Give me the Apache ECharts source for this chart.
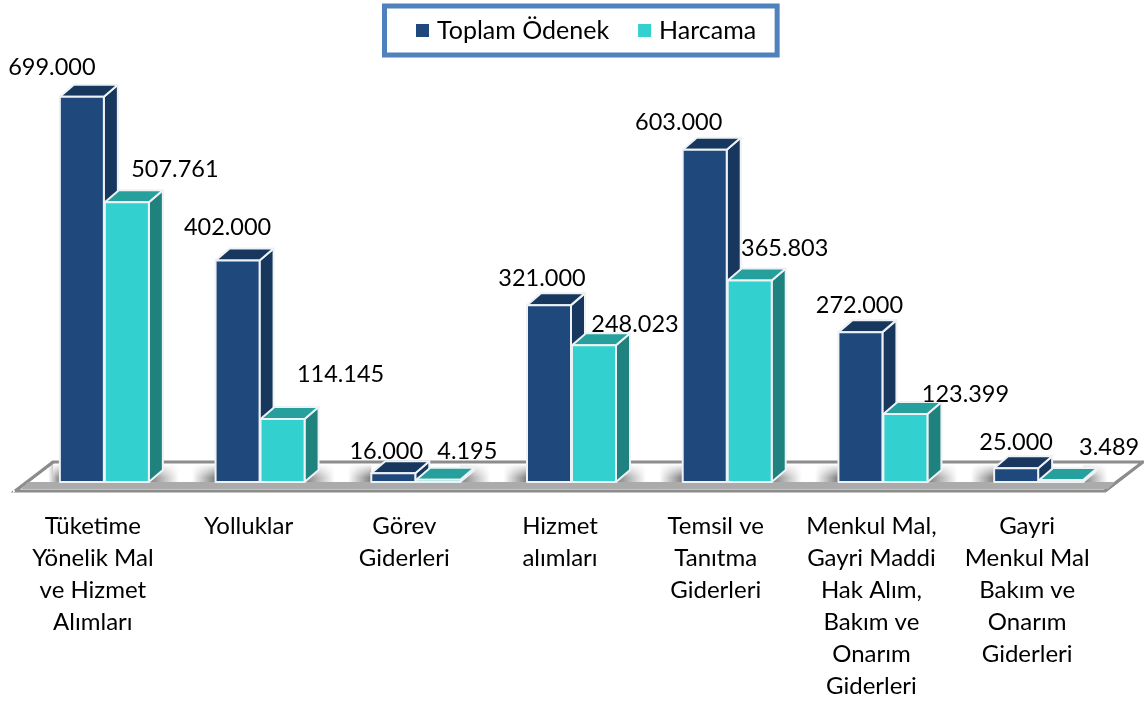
<!DOCTYPE html>
<html>
<head>
<meta charset="utf-8">
<title>Toplam Ödenek ve Harcama</title>
<script src="https://cdn.jsdelivr.net/npm/echarts@6/dist/echarts.min.js"></script>
<style>
  html, body { margin: 0; padding: 0; background: #fff; }
  #chart { width: 1144px; height: 702px; }
</style>
</head>
<body>
<div id="chart"></div>
<script>
const categories = [
  'Tüketime\nYönelik Mal\nve Hizmet\nAlımları',
  'Yolluklar',
  'Görev\nGiderleri',
  'Hizmet\nalımları',
  'Temsil ve\nTanıtma\nGiderleri',
  'Menkul Mal,\nGayri Maddi\nHak Alım,\nBakım ve\nOnarım\nGiderleri',
  'Gayri\nMenkul Mal\nBakım ve\nOnarım\nGiderleri'
]
const toplamOdenek = [699000, 402000, 16000, 321000, 603000, 272000, 25000]
const harcama = [507761, 114145, 4195, 248023, 365803, 123399, 3489]

// label nudges relative to the top centre of each bar, the source places them by hand
const toplamLabelShift = [[-30, -29], [-10, -33], [-7, -22], [-7, -27], [-26, -27], [-1, -27], [0, -26]]
const harcamaLabelShift = [[48, -33], [58, -45], [29, -28], [41, -21], [35, -32], [60, -20], [48, -33]]

const FONT = 'Lato, "Noto Sans", sans-serif'
const DEPTH_X = 14
const DEPTH_Y = 12
const BAR_W = 44
const BAR_START = -33

const fmt = (v) => String(v).replace(/\B(?=(\d{3})+$)/g, '.')

const barSeries = (name, values, shifts, offset, front, top, side) => ({
  name,
  type: 'custom',
  clip: false,
  z: 3,
  itemStyle: { color: front },
  data: values.map((v, i) => [i, v]),
  encode: { x: 0, y: 1 },
  renderItem: (params, api) => {
    const idx = api.value(0)
    const val = api.value(1)
    const tip = api.coord([idx, val])
    const base = api.coord([idx, 0])
    const x0 = tip[0] + BAR_START + offset
    const x1 = x0 + BAR_W
    const y0 = tip[1]
    const y1 = base[1]
    const edge = { stroke: '#eef2f4', lineWidth: 2, lineJoin: 'round' }
    const shift = shifts[idx]
    return {
      type: 'group',
      children: [
        {
          type: 'polygon',
          shape: { points: [[x1, y0], [x1 + DEPTH_X, y0 - DEPTH_Y], [x1 + DEPTH_X, y1 - DEPTH_Y], [x1, y1]] },
          style: { fill: side, ...edge }
        },
        {
          type: 'polygon',
          shape: { points: [[x0, y0], [x0 + DEPTH_X, y0 - DEPTH_Y], [x1 + DEPTH_X, y0 - DEPTH_Y], [x1, y0]] },
          style: { fill: top, ...edge }
        },
        {
          type: 'rect',
          shape: { x: x0, y: y0, width: BAR_W, height: y1 - y0 },
          style: { fill: front, ...edge }
        },
        {
          type: 'text',
          z2: 10,
          style: {
            text: fmt(val),
            x: (x0 + x1) / 2 + shift[0],
            y: y0 + shift[1],
            align: 'center',
            verticalAlign: 'middle',
            font: '23.5px ' + FONT,
            fill: '#000'
          }
        }
      ]
    }
  }
})

// the grey plate the bars stand on, plus the soft shadows between them
const floorSeries = {
  type: 'custom',
  clip: false,
  silent: true,
  z: 1,
  data: [[0, 0]],
  encode: { x: 0, y: 1 },
  renderItem: (params, api) => {
    const cs = params.coordSys
    const yBase = api.coord([0, 0])[1]
    const yFront = yBase + 9
    const yBack = yBase - 20
    const left = cs.x
    const right = cs.x + cs.width
    const skew = 38
    const children = [
      {
        type: 'polygon',
        shape: { points: [[left, yFront], [left + skew, yBack], [right + skew, yBack], [right, yFront]] },
        style: { fill: '#fff', stroke: '#8c8c8c', lineWidth: 3, lineJoin: 'miter' }
      }
    ]
    const grey = (a) => 'rgba(125,125,125,' + a + ')'
    const gapEdges = [left + 12]
    categories.forEach((c, i) => {
      const cx = api.coord([i, 0])[0]
      gapEdges.push(cx + BAR_START, cx + BAR_START + 2 * BAR_W + 1)
    })
    gapEdges.push(right + skew - 6)
    for (let i = 0; i < gapEdges.length; i += 2) {
      const a = gapEdges[i]
      const b = gapEdges[i + 1]
      children.push({
        type: 'rect',
        shape: { x: a, y: yBack + 2, width: b - a, height: yBase - yBack - 2 },
        style: {
          fill: new echarts.graphic.LinearGradient(0, 0, 1, 0, [
            { offset: 0, color: grey(i === 0 ? 0 : 1) },
            { offset: 0.45, color: grey(0) },
            { offset: 0.65, color: grey(0) },
            { offset: 1, color: grey(i === gapEdges.length - 2 ? 0 : 1) }
          ])
        }
      })
    }
    // fade the shadows out towards the back edge, keeps the plate white there
    children.push({
      type: 'rect',
      shape: { x: left + skew, y: yBack + 2, width: right - left, height: yBase - yBack - 2 },
      style: {
        fill: new echarts.graphic.LinearGradient(0, 0, 0, 1, [
          { offset: 0, color: 'rgba(255,255,255,1)' },
          { offset: 0.75, color: 'rgba(255,255,255,0)' }
        ])
      }
    })
    // redo both slants, the shadow rects spill over them
    children.push({
      type: 'polygon',
      shape: { points: [[left - 2, yFront + 2], [left + skew - 2, yBack], [left - 2, yBack]] },
      style: { fill: '#fff' }
    })
    children.push({
      type: 'polygon',
      shape: { points: [[right + 2, yFront + 2], [right + skew + 2, yBack], [right + skew + 2, yFront + 2]] },
      style: { fill: '#fff' }
    })
    children.push({
      type: 'polyline',
      shape: { points: [[left, yFront], [left + skew, yBack]] },
      style: { fill: 'none', stroke: '#8c8c8c', lineWidth: 3 }
    })
    children.push({
      type: 'polyline',
      shape: { points: [[right, yFront], [right + skew, yBack]] },
      style: { fill: 'none', stroke: '#8c8c8c', lineWidth: 3 }
    })
    // darker strip along the front edge
    children.push({
      type: 'polygon',
      shape: { points: [[left + 13, yBase], [right + 10, yBase], [right + 3, yFront - 2], [left + 6, yFront - 2]] },
      style: { fill: '#ababab' }
    })
    return { type: 'group', children }
  }
}

const chart = echarts.init(document.getElementById('chart'))

chart.setOption({
  animation: false,
  backgroundColor: '#fff',
  legend: {
    data: ['Toplam Ödenek', 'Harcama'],
    left: 384.5,
    top: 6,
    icon: 'rect',
    itemWidth: 13,
    itemHeight: 13,
    itemGap: 29,
    padding: [12, 21, 12, 31.5],
    borderColor: '#4f81bd',
    borderWidth: 5,
    backgroundColor: '#fff',
    textStyle: { color: '#000', fontSize: 25, fontFamily: FONT, padding: [0, 0, 0, 3] }
  },
  grid: { left: 15, right: 39, top: 96.3, bottom: 220 },
  xAxis: {
    type: 'category',
    data: categories,
    axisLine: { show: false },
    axisTick: { show: false },
    axisLabel: {
      interval: 0,
      margin: 28,
      color: '#000',
      fontSize: 24,
      lineHeight: 32,
      fontFamily: FONT
    }
  },
  yAxis: { type: 'value', min: 0, max: 700000, show: false, splitLine: { show: false } },
  series: [
    floorSeries,
    barSeries('Toplam Ödenek', toplamOdenek, toplamLabelShift, 0, '#1f497d', '#17375e', '#17375e'),
    barSeries('Harcama', harcama, harcamaLabelShift, BAR_W + 1, '#33d0d0', '#26a09c', '#1f827e')
  ]
})
</script>
</body>
</html>
